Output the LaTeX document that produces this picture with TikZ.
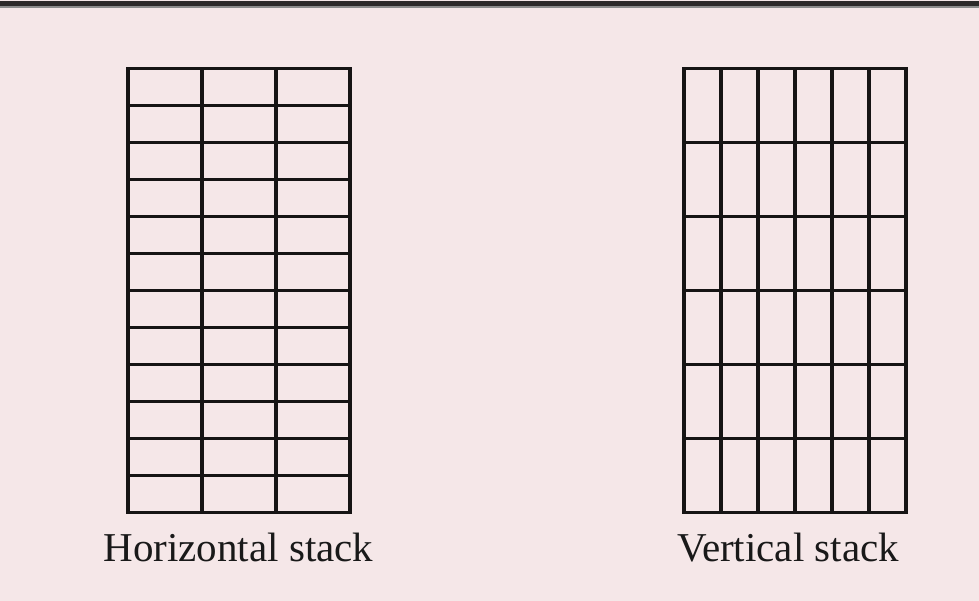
\documentclass[tikz,border=0pt]{standalone}
\usepackage{fontspec}
\setmainfont{Liberation Serif}
\definecolor{bgpink}{RGB}{245,231,232}
\definecolor{gridline}{RGB}{22,20,20}
\definecolor{topbar}{RGB}{45,42,42}
\tikzset{
  gridstroke/.style={draw=gridline, line width=3.4pt, line cap=rect},
  caption/.style={anchor=base, font=\fontsize{41}{48}\selectfont, text=black!90, inner sep=0pt}
}
\begin{document}
\begin{tikzpicture}[x=1pt,y=1pt]
  \fill[bgpink] (0,0) rectangle (979,601);
  \useasboundingbox (0,0) rectangle (979,601);
  % top bar
  \fill[topbar] (0,594.5) rectangle (979,599.5);
  \fill[black!45] (0,593) rectangle (979,594.5);
  % left grid: 3 columns x 12 rows
  \begin{scope}[shift={(128,88.5)}]
    \foreach \i in {0,...,12} {
      \draw[gridstroke] (0,{\i*37}) -- (222,{\i*37});
    }
    \foreach \j in {0,1,2,3} {
      \draw[gridstroke] ({\j*74},0) -- ({\j*74},444);
    }
  \end{scope}
  % right grid: 6 columns x 6 rows
  \begin{scope}[shift={(684,88.5)}]
    \foreach \i in {0,...,6} {
      \draw[gridstroke] (0,{\i*74}) -- (222,{\i*74});
    }
    \foreach \j in {0,...,6} {
      \draw[gridstroke] ({\j*37},0) -- ({\j*37},444);
    }
  \end{scope}
  \node[caption] (hlabel) at (238.5,39) {Horizontal stack};
  \node[caption] (vlabel) at (788,39) {Vertical stack};
\end{tikzpicture}
\end{document}
